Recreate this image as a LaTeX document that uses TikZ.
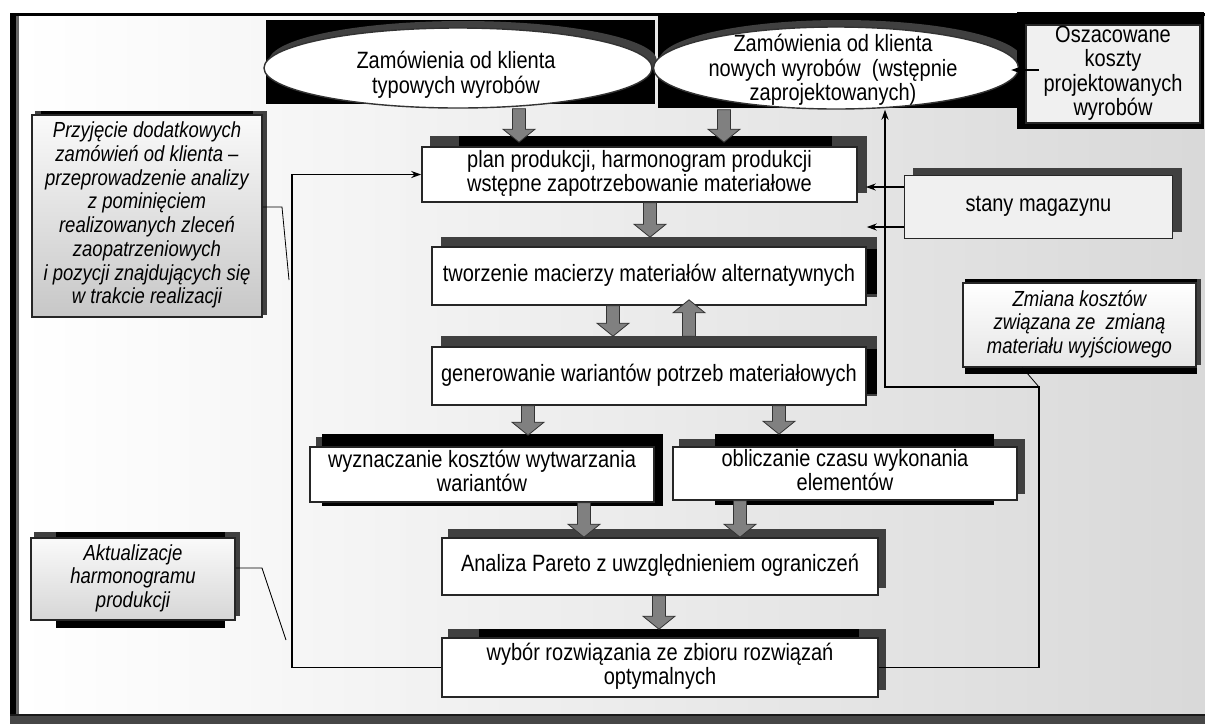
\documentclass[tikz,border=0pt]{standalone}
\usepackage{fontspec}
\usepackage{graphicx}
\setmainfont{Liberation Sans}
\usetikzlibrary{shapes.geometric, arrows.meta, calc}
\definecolor{shgray}{RGB}{64,64,64}
\definecolor{arrgray}{RGB}{128,128,128}
\pgfdeclarelayer{bg}
\pgfdeclarelayer{sh}
\pgfsetlayers{bg,sh,main}
% Text etwas gestreckt wie im Original
\newcommand{\tekst}[1]{\scalebox{1}[1.18]{\begin{tabular}{@{}c@{}}#1\end{tabular}}}
% dicker grauer Blockpfeil (senkrecht), #1 Anfang, #2 Spitze
\newcommand{\grubastrzalka}[2]{%
  \filldraw[gruba] let \p1=(#1), \p2=(#2), \p3=($(\p2)!13pt!(\p1)$) in
    (\x1-6.5pt,\y1) -- (\x1-6.5pt,\y3) -- (\x1-16pt,\y3) -- (\x1,\y2)
    -- (\x1+16pt,\y3) -- (\x1+6.5pt,\y3) -- (\x1+6.5pt,\y1) -- cycle;}

\begin{document}
\begin{tikzpicture}[x=1pt, y=-1pt,
      >={Stealth[length=10pt,width=7pt]},   %Pfeilspitzen
      every node/.style={font=\fontsize{20}{20.8}\selectfont, inner sep=0pt},
      blok/.style 2 args={draw=black!85, line width=1.6pt, fill=white, minimum width=#1pt, minimum height=#2pt},
      szary/.style 2 args={blok={#1}{#2}, fill=black!6},
      uwaga/.style 2 args={blok={#1}{#2}, top color=black!2, bottom color=black!22, font=\fontsize{18.5}{20.1}\selectfont\itshape},
      owal/.style 2 args={ellipse, draw=black!80, line width=1.4pt, fill=white, minimum width=#1pt, minimum height=#2pt},
      linia/.style={line width=1.8pt},
      cienka/.style={line width=0.8pt},
      gruba/.style={fill=arrgray, draw=black!80, line width=0.8pt}]
  \useasboundingbox (0,0) rectangle (1205,724);
  % Ovale oben
  \node[owal={388}{80}] (zam1) at (458,68) {};
  \node (zam1t) at (456,76) {\tekst{Zamówienia od klienta\\typowych wyrobów}};
  \node[owal={365}{82}] (zam2) at (836,68) {};
  \node (zam2t) at (833,71) {\tekst{Zamówienia od klienta\\nowych wyrobów~ (wstępnie\\zaprojektowanych)}};
  \node[szary={174}{98}] (osz) at (1113,74) {\tekst{Oszacowane\\koszty\\projektowanych\\wyrobów}};
  % Kästen des Ablaufs
  \node[blok={435}{55}] (plan) at (639.5,174.5) {\tekst{plan produkcji, harmonogram produkcji\\wstępne zapotrzebowanie materiałowe}};
  \node[blok={434}{58}] (tworz) at (649,276) {\tekst{tworzenie macierzy materiałów alternatywnych}};
  \node[blok={434}{58}] (gener) at (649,376) {\tekst{generowanie wariantów potrzeb materiałowych}};
  \node[blok={344}{55}] (wyzn) at (482,474.5) {\tekst{wyznaczanie kosztów wytwarzania\\wariantów}};
  \node[blok={344}{53}] (oblicz) at (845,473.5) {\tekst{obliczanie czasu wykonania\\elementów}};
  \node[blok={436}{57}] (pareto) at (660,566.5) {\tekst{Analiza Pareto z uwzględnieniem ograniczeń}};
  \node[blok={436}{59}] (wybor) at (660,667.5) {\tekst{wybór rozwiązania ze zbioru rozwiązań\\optymalnych}};
  % Kästen am Rand
  \node[uwaga={230}{202}] (przyj) at (147,216) {\tekst{Przyjęcie dodatkowych\\zamówień od klienta –\\przeprowadzenie analizy\\z pominięciem\\realizowanych zleceń\\zaopatrzeniowych\\i pozycji znajdujących się\\w trakcie realizacji}};
  \node[uwaga={204}{82}, bottom color=black!16] (aktual) at (133,579) {\tekst{Aktualizacje\\harmonogramu\\produkcji}};
  \node[szary={268}{63}] (stany) at (1038.5,207) {\tekst{stany magazynu}};
  \node[uwaga={233}{84}, top color=white, bottom color=black!10] (zmiana) at (1079.5,325) {\tekst{Zmiana kosztów\\związana ze~ zmianą\\materiału wyjściowego}};
  \coordinate (knick) at (1039,387);
  % Schatten
  \begin{pgfonlayer}{sh}
    \fill[black] (266,20) rectangle (655,104);
    \fill[black] (658,16) rectangle (1026,108);
    \fill[shgray] ([shift={(5pt,7pt)}]zam1.center) ellipse (194pt and 40pt);
    \fill[shgray] ([shift={(5pt,7pt)}]zam2.center) ellipse (182pt and 41pt);
    \foreach \n/\gx/\gy/\bl/\bt/\br/\bb in {plan/9/10/38/10/-26/0, tworz/10/9/20/-3/10/12,
        gener/10/10/20/-3/10/12, wyzn/7/9/13/12/8/-3, oblicz/7/7/43/12/-24/-4,
        pareto/7/8/0/0/0/0, wybor/7/8/38/8/-20/0, przyj/4/3/10/3/-10/0,
        aktual/4/5/26/5/-11/-7, stany/9/7/0/0/0/0, zmiana/4/3/3/3/0/-6, osz/0/0/-8/12/3/-5}
    {
      \fill[shgray] ([shift={(\gx pt,\gy pt)}]\n.north west) rectangle ([shift={(\gx pt,\gy pt)}]\n.south east);
      \fill[black] ([shift={(\bl pt,\bt pt)}]\n.north west) rectangle ([shift={(\br pt,\bb pt)}]\n.south east);
    }
  \end{pgfonlayer}
  % Hintergrund und Rahmen
  \begin{pgfonlayer}{bg}
    \shade[left color=white, right color=black!15] (18,16) rectangle (1205,714);
    \fill[black] (10,13) rectangle (1205,16);
    \fill[black] (10,13) rectangle (16,724);
    \fill[black!60] (16,16) rectangle (19,714);
    \fill[black!72] (10,714) rectangle (1205,724);
    \fill[black!90] (10,714) rectangle (1205,716);
  \end{pgfonlayer}
  % Blockpfeile
  \grubastrzalka{zam1.south -| 519,0}{$(plan.north -| 519,0)+(0,-4)$}
  \grubastrzalka{zam2.south -| 724,0}{$(plan.north -| 724,0)+(0,-4)$}
  \grubastrzalka{plan.south -| 650,0}{$(tworz.north -| 650,0)+(0,-9)$}
  \grubastrzalka{tworz.south -| 613,0}{$(gener.north -| 613,0)+(0,-10)$}
  \grubastrzalka{$(gener.north -| 689,0)+(0,-10)$}{$(tworz.south -| 689,0)+(0,-6)$}
  \grubastrzalka{gener.south -| 528,0}{$(wyzn.north -| 528,0)+(0,-11)$}
  \grubastrzalka{gener.south -| 779,0}{$(oblicz.north -| 779,0)+(0,-12)$}
  \grubastrzalka{wyzn.south -| 584,0}{pareto.north -| 584,0}
  \grubastrzalka{oblicz.south -| 740,0}{pareto.north -| 740,0}
  \grubastrzalka{pareto.south -| 659,0}{$(wybor.north -| 659,0)+(0,-8)$}
  % Verbindungen
  \draw[linia,->] (wybor.west) -| ([xshift=-129pt]plan.west) -- (plan.west);
  \draw[linia,->] (wybor.east) -| (knick) -| (zam2.south -| 885,0);
  \draw[linia,->] (stany.west |- 0,187) -- ([xshift=8pt]plan.east |- 0,187);
  \draw[linia,->] (stany.west |- 0,227) -- (tworz.east |- 0,227);
  \draw[linia,->] ([xshift=14pt]osz.west |- 0,70) -- ([xshift=-8pt]zam2.east |- 0,70);
  % Hinweislinien
  \draw[cienka] (przyj.east |- 0,207) -- (282,207) -- (289,280);
  \draw[cienka] (aktual.east |- 0,568) -- (262,568) -- (286,640);
  \draw[cienka] ([xshift=-57pt]zmiana.south) -- (knick);
\end{tikzpicture}
\end{document}
